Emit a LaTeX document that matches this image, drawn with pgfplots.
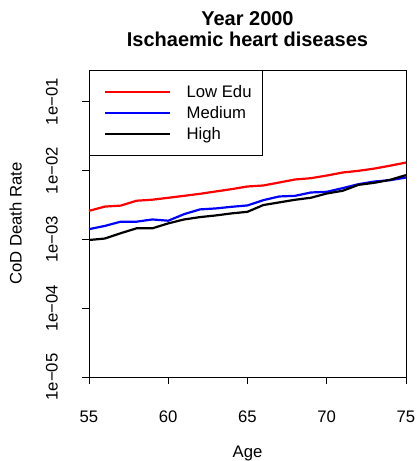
\documentclass[border=0pt]{standalone}
\usepackage{fontspec}
\setmainfont{Liberation Sans}
\usepackage{pgfplots}
\pgfplotsset{compat=1.18}
\begin{document}
\fontsize{16.7}{20}\selectfont
\begin{tikzpicture}
\begin{axis}[
  scale only axis, width=317pt, height=307pt,
  xmin=55, xmax=75, ymode=log, ymin=1e-5, ymax=0.29,
  xtick={55,60,65,70,75}, xticklabels={55,60,65,70,75},
  ytick={1e-5,1e-4,1e-3,1e-2,1e-1},
  yticklabels={1e−05,1e−04,1e−03,1e−02,1e−01},
  yminorticks=false, xminorticks=false,
  tick align=outside, tick pos=left,
  major tick length=7pt,
  axis line style={line width=0.8pt, black},
  every tick/.style={black, line width=0.8pt},
  tick label style={font=\fontsize{16.7}{20}\selectfont},
  xticklabel style={anchor=base, yshift=-39pt, inner sep=0pt},
  yticklabel style={rotate=90, anchor=south, inner xsep=0pt, inner ysep=24pt},
  xlabel={Age}, ylabel={CoD Death Rate},
  every axis x label/.style={at={(axis description cs:0.5,0)}, anchor=base, yshift=-80pt, inner sep=0pt, font=\fontsize{16.7}{20}\selectfont},
  every axis y label/.style={at={(axis description cs:0,0.5)}, rotate=90, anchor=south, inner xsep=0pt, inner ysep=67pt, font=\fontsize{16.7}{20}\selectfont},
  title={Year 2000\\Ischaemic heart diseases},
  every axis title/.style={at={(axis description cs:0.5,1)}, anchor=south, inner sep=0pt, yshift=23.3pt, align=center, font=\bfseries\fontsize{20}{20.7}\selectfont},
  legend cell align=left,
  legend style={at={(0,1)}, anchor=north west, draw=black, line width=0.8pt, fill=white,
    inner xsep=11pt, inner ysep=15.5pt, row sep=9pt, column sep=15pt,
    font=\fontsize{16.7}{20}\selectfont,
    nodes={inner sep=0pt, text height=12pt, text depth=0pt}},
  legend image code/.code={\path (0pt,0pt); \draw[#1] (4pt,0pt) -- (69pt,0pt);},
]
\coordinate (bl) at (rel axis cs:0,0);
\addplot[red, line width=2.2pt] coordinates {
(55,2.6e-3) (56,3.0e-3) (57,3.1e-3) (58,3.65e-3) (59,3.78e-3) (60,4.03e-3)
(61,4.3e-3) (62,4.6e-3) (63,4.98e-3) (64,5.38e-3) (65,5.88e-3) (66,6.08e-3)
(67,6.72e-3) (68,7.43e-3) (69,7.76e-3) (70,8.48e-3) (71,9.38e-3) (72,9.93e-3)
(73,1.07e-2) (74,1.18e-2) (75,1.31e-2)};
\addlegendentry{Low Edu}
\addplot[blue, line width=2.2pt] coordinates {
(55,1.41e-3) (56,1.57e-3) (57,1.81e-3) (58,1.81e-3) (59,1.95e-3) (60,1.87e-3)
(61,2.33e-3) (62,2.73e-3) (63,2.82e-3) (64,2.98e-3) (65,3.12e-3) (66,3.72e-3)
(67,4.21e-3) (68,4.30e-3) (69,4.81e-3) (70,4.92e-3) (71,5.56e-3) (72,6.35e-3)
(73,6.94e-3) (74,7.26e-3) (75,7.94e-3)};
\addlegendentry{Medium}
\addplot[black, line width=2.2pt] coordinates {
(55,9.8e-4) (56,1.03e-3) (57,1.23e-3) (58,1.45e-3) (59,1.45e-3) (60,1.71e-3)
(61,1.95e-3) (62,2.11e-3) (63,2.23e-3) (64,2.39e-3) (65,2.52e-3) (66,3.16e-3)
(67,3.45e-3) (68,3.77e-3) (69,4.03e-3) (70,4.65e-3) (71,5.09e-3) (72,6.21e-3)
(73,6.65e-3) (74,7.35e-3) (75,8.6e-3)};
\addlegendentry{High}
\end{axis}
\pgfresetboundingbox
\path (bl) ++(-89pt,-84pt) rectangle ++(417pt,461pt);
\end{tikzpicture}
\end{document}
